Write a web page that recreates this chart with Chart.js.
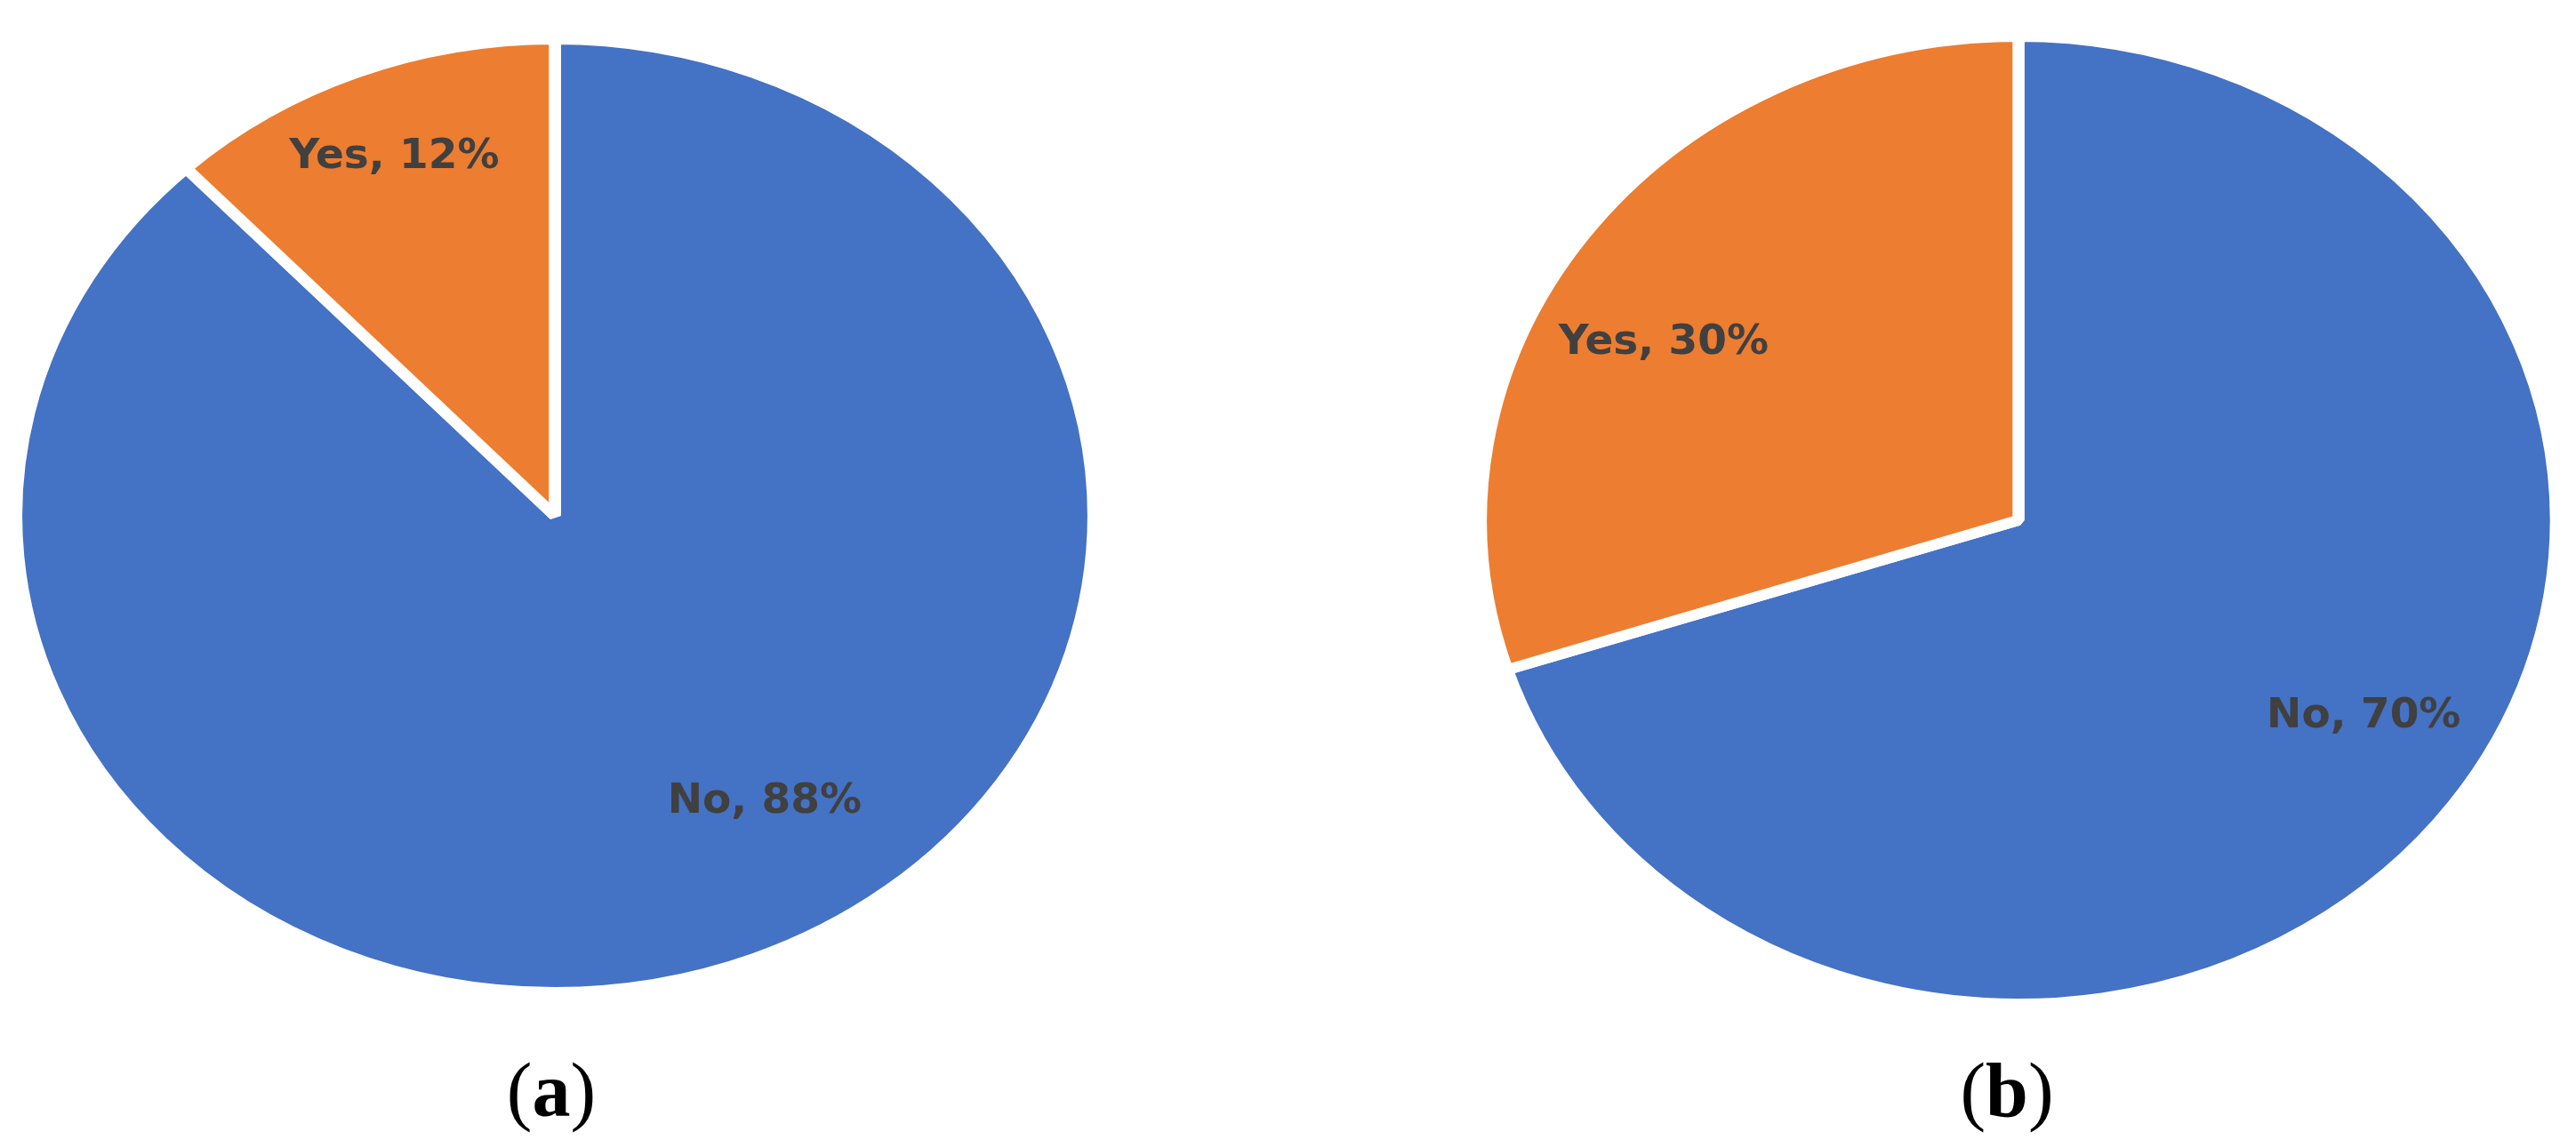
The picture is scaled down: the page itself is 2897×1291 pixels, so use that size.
<!DOCTYPE html>
<html>
<head>
<meta charset="utf-8">
<script src="https://cdn.jsdelivr.net/npm/chart.js@4/dist/chart.umd.min.js"></script>
<style>
  html, body { margin: 0; padding: 0; background: #fff; }
  body { width: 2897px; height: 1291px; position: relative; overflow: hidden; }
  canvas { position: absolute; }
  .caption {
    position: absolute;
    top: 1183px;
    font-family: "Liberation Serif", "Times New Roman", serif;
    font-size: 86px;
    line-height: 86px;
    color: #000;
    transform: translateX(-50%);
    white-space: nowrap;
  }
</style>
</head>
<body>
<canvas id="pieA" width="1240" height="1084" style="left:4px; top:38px;"></canvas>
<canvas id="pieB" width="1240" height="1100" style="left:1650px; top:35px;"></canvas>
<div class="caption" style="left:620px;">(<b>a</b>)</div>
<div class="caption" style="left:2257px;">(<b>b</b>)</div>

<script>
// Answer categories and shares (%) for the two pies
const categories = ['No', 'Yes'];
const valuesA = [88, 12];
const valuesB = [70, 30];
const sliceColors = ['#4472C4', '#ED7D31'];

// stretch the round pie sideways so it looks like the oval in the figure
const ellipsePlugin = {
  id: 'ellipse',
  beforeDatasetsDraw(chart, args, opts) {
    const { ctx, chartArea } = chart;
    const cx = (chartArea.left + chartArea.right) / 2;
    const cy = (chartArea.top + chartArea.bottom) / 2;
    ctx.save();
    ctx.translate(cx, cy);
    ctx.scale(opts.stretch, 1);
    ctx.translate(-cx, -cy);
  },
  afterDatasetsDraw(chart) {
    chart.ctx.restore();
  }
};

// "Yes, 12%" style labels inside the slices
const sliceLabels = {
  id: 'sliceLabels',
  afterDraw(chart, args, opts) {
    const ctx = chart.ctx;
    const meta = chart.getDatasetMeta(0);
    const stretch = chart.options.plugins.ellipse.stretch;
    ctx.save();
    ctx.font = 'bold 47px "DejaVu Sans", Verdana, sans-serif';
    ctx.fillStyle = '#404040';
    ctx.textAlign = 'center';
    ctx.textBaseline = 'middle';
    meta.data.forEach((arc, i) => {
      const mid = (arc.startAngle + arc.endAngle) / 2 + opts.shift[i] * Math.PI / 180;
      const r = arc.outerRadius * opts.radius[i];
      const x = arc.x + Math.cos(mid) * r * stretch;
      const y = arc.y + Math.sin(mid) * r;
      const value = chart.data.datasets[0].data[i];
      ctx.fillText(chart.data.labels[i] + ', ' + value + '%', x, y);
    });
    ctx.restore();
  }
};

function makePie(id, values, stretch, pad, shift, radius) {
  new Chart(document.getElementById(id).getContext('2d'), {
    type: 'pie',
    data: {
      labels: categories,
      datasets: [{
        data: values,
        backgroundColor: sliceColors,
        borderColor: '#ffffff',
        borderWidth: 12
      }]
    },
    options: {
      responsive: false,
      animation: false,
      layout: { padding: { left: pad, right: pad } },
      plugins: {
        legend: { display: false },
        tooltip: { enabled: false },
        ellipse: { stretch: stretch },
        sliceLabels: { shift: shift, radius: radius }
      }
    },
    plugins: [ellipsePlugin, sliceLabels]
  });
}

makePie('pieA', valuesA, 1.13, 78, [-11.4, 0], [0.715, 0.81]);
makePie('pieB', valuesB, 1.111, 70, [-3.7, -7], [0.76, 0.755]);
</script>
</body>
</html>
